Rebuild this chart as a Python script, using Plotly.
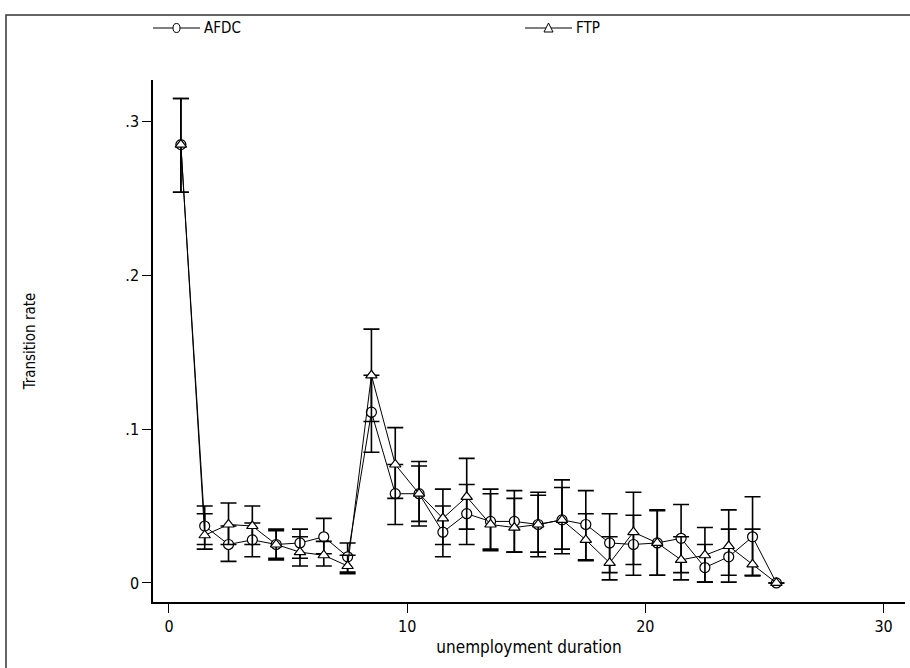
import plotly.graph_objects as go

# ---- data ----
duration = [0.5, 1.5, 2.5, 3.5, 4.5, 5.5, 6.5, 7.5, 8.5, 9.5, 10.5, 11.5, 12.5,
            13.5, 14.5, 15.5, 16.5, 17.5, 18.5, 19.5, 20.5, 21.5, 22.5, 23.5, 24.5, 25.5]

afdc = [0.285, 0.037, 0.025, 0.028, 0.025, 0.026, 0.030, 0.017, 0.111, 0.058, 0.058, 0.033, 0.045,
        0.040, 0.040, 0.038, 0.041, 0.038, 0.026, 0.025, 0.026, 0.029, 0.010, 0.017, 0.030, 0.0]
afdc_lo = [0.254, 0.025, 0.014, 0.017, 0.015, 0.016, 0.019, 0.007, 0.085, 0.038, 0.037, 0.017, 0.025,
           0.022, 0.020, 0.017, 0.019, 0.015, 0.0067, 0.005, 0.005, 0.0067, 0.0005, 0.0005, 0.005, 0.0]
afdc_hi = [0.315, 0.050, 0.037, 0.039, 0.035, 0.035, 0.042, 0.026, 0.135, 0.077, 0.079, 0.050, 0.064,
           0.061, 0.060, 0.059, 0.062, 0.060, 0.045, 0.044, 0.047, 0.051, 0.025, 0.035, 0.056, 0.0]

ftp = [0.285, 0.031, 0.038, 0.037, 0.025, 0.020, 0.018, 0.011, 0.135, 0.077, 0.058, 0.042, 0.056,
       0.038, 0.036, 0.038, 0.041, 0.028, 0.013, 0.033, 0.026, 0.015, 0.018, 0.024, 0.012, 0.0]
ftp_lo = [0.254, 0.022, 0.025, 0.025, 0.016, 0.011, 0.011, 0.006, 0.105, 0.055, 0.040, 0.025, 0.035,
          0.021, 0.020, 0.020, 0.022, 0.0145, 0.002, 0.012, 0.005, 0.002, 0.0005, 0.005, 0.0046, 0.0]
ftp_hi = [0.315, 0.045, 0.052, 0.050, 0.034, 0.030, 0.027, 0.018, 0.165, 0.101, 0.076, 0.061, 0.081,
          0.058, 0.055, 0.057, 0.067, 0.045, 0.030, 0.059, 0.0475, 0.030, 0.036, 0.0475, 0.035, 0.0]

y_tickvals = [0, 0.1, 0.2, 0.3]
y_ticktext = ["0", ".1", ".2", ".3"]
x_tickvals = [0, 10, 20, 30]
legend_names = ["AFDC", "FTP"]

FONT = "Liberation Sans Narrow, DejaVu Sans Condensed, Liberation Sans, Arial, sans-serif"

# plot area in pixels
L, R, T, B = 153, 905, 80, 602
W, H = R - L, B - T


def px(x):
    return (x - L) / W


def py(y):
    return 1 + (T - y) / H


def series(name, y, lo, hi, symbol):
    return go.Scatter(
        x=duration, y=y, name=name, mode="lines+markers",
        line=dict(color="black", width=1),
        marker=dict(symbol=symbol, size=10, color="white",
                    line=dict(color="black", width=1.2)),
        error_y=dict(type="data", symmetric=False,
                     array=[h - v for h, v in zip(hi, y)],
                     arrayminus=[v - l for v, l in zip(y, lo)],
                     color="black", thickness=1.6, width=8),
        showlegend=False,
    )


fig = go.Figure()
fig.add_trace(series(legend_names[0], afdc, afdc_lo, afdc_hi, "circle"))
fig.add_trace(series(legend_names[1], ftp, ftp_lo, ftp_hi, "triangle-up"))

# manual legend (top, Stata style)
shapes = [dict(type="rect", xref="paper", yref="paper",
               x0=px(6), x1=px(960), y0=py(720), y1=py(15),
               line=dict(color="#333333", width=1.5), fillcolor="rgba(0,0,0,0)",
               layer="below")]
annotations = []
ly = 28
for i, (x0, x1) in enumerate([(153, 200), (525, 572)]):
    shapes.append(dict(type="line", xref="paper", yref="paper",
                       x0=px(x0), x1=px(x1), y0=py(ly), y1=py(ly),
                       line=dict(color="black", width=1)))
    cx = (x0 + x1) / 2
    if i == 0:
        shapes.append(dict(type="circle", xref="paper", yref="paper",
                           x0=px(cx - 3.5), x1=px(cx + 3.5), y0=py(ly + 4.5), y1=py(ly - 4.5),
                           line=dict(color="black", width=1), fillcolor="white"))
    else:
        path = "M {} {} L {} {} L {} {} Z".format(px(cx - 4.5), py(ly + 4), px(cx + 4.5), py(ly + 4),
                                                   px(cx), py(ly - 5))
        shapes.append(dict(type="path", xref="paper", yref="paper", path=path,
                           line=dict(color="black", width=1), fillcolor="white"))
    annotations.append(dict(text=legend_names[i], xref="paper", yref="paper",
                            x=px(x1 + 2), y=py(ly), xanchor="left", yanchor="middle",
                            showarrow=False, font=dict(family=FONT, size=15, color="black")))

fig.update_layout(
    width=910, height=668,
    margin=dict(l=L, r=910 - R, t=T, b=668 - B),
    paper_bgcolor="white", plot_bgcolor="white",
    font=dict(family=FONT, size=15, color="black"),
    showlegend=False,
    xaxis=dict(range=[-0.67, 30.9], tickvals=x_tickvals, ticks="outside", ticklen=9,
               tickwidth=1.2, tickcolor="black", showline=True, linecolor="black", linewidth=1.5,
               showgrid=False, zeroline=False, mirror=False,
               tickfont=dict(family=FONT, size=16),
               title=dict(text="unemployment duration", standoff=6,
                          font=dict(family=FONT, size=17))),
    yaxis=dict(range=[-0.0124, 0.327], tickvals=y_tickvals, ticktext=y_ticktext,
               ticks="outside", ticklen=9, tickwidth=1.2, tickcolor="black",
               showline=True, linecolor="black", linewidth=1.5,
               showgrid=False, zeroline=False, mirror=False,
               tickfont=dict(family=FONT, size=16),
               title=dict(text="Transition rate", standoff=86,
                          font=dict(family=FONT, size=15))),
    shapes=shapes,
    annotations=annotations,
)

fig.write_html("out.html")
